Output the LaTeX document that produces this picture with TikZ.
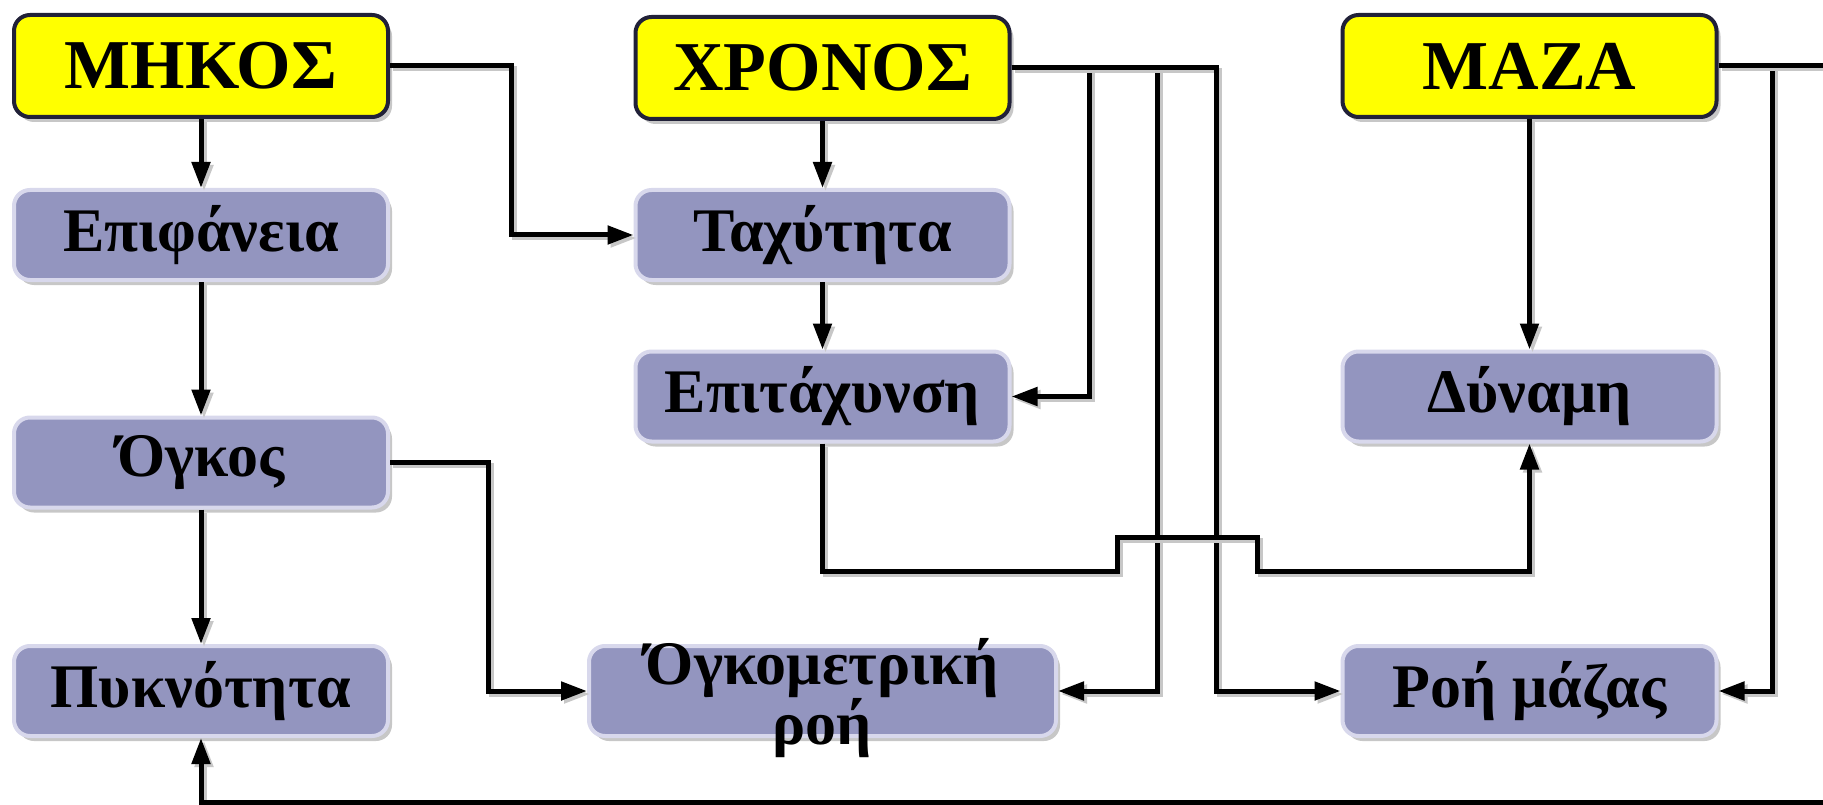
\documentclass[tikz,border=0pt]{standalone}
\usepackage{fontspec}
\setmainfont{Liberation Serif}
\usetikzlibrary{arrows.meta,shadows}
\definecolor{ybox}{RGB}{255,255,0}
\definecolor{ybord}{RGB}{33,33,56}
\definecolor{pfill}{RGB}{147,149,191}
\definecolor{pbord}{RGB}{216,216,236}
\tikzset{
  boxbase/.style={rectangle, rounded corners=16pt, line width=4pt, inner sep=0pt,
    drop shadow={shadow xshift=4pt, shadow yshift=-5pt, fill=black, opacity=0.22}},
  ybx/.style={boxbase, fill=ybox, draw=ybord, minimum width=374pt, minimum height=102pt,
    font=\fontsize{70}{80}\selectfont\bfseries},
  pbx/.style={boxbase, fill=pfill, draw=pbord, minimum width=374pt, minimum height=90pt,
    font=\fontsize{62}{57}\selectfont\bfseries},
  ptext/.style={font=\fontsize{62}{57}\selectfont\bfseries, align=center, inner sep=0pt},
  conn/.style={line width=5pt, draw=black, -{Triangle[length=26pt,width=18pt]},
    preaction={draw=black!22, line width=5pt, transform canvas={shift={(3,3)}}}}
}
\begin{document}
\begin{tikzpicture}[x=1pt,y=-1pt]
\useasboundingbox (0,0) rectangle (1823,805);
\fill[white] (0,0) rectangle (1823,805);
\clip (0,0) rectangle (1823,805);
% nodes
\node[ybx] (mhkos) at (201,66) {ΜΗΚΟΣ};
\node[ybx] (xronos) at (822.5,68) {ΧΡΟΝΟΣ};
\node[ybx] (maza) at (1529.5,66) {ΜΑΖΑ};
\node[pbx] (epif) at (201,235) {Επιφάνεια};
\node[pbx] (tax) at (822.5,235) {Ταχύτητα};
\node[pbx] (epit) at (822.5,396.5) {Επιτάχυνση};
\node[pbx] (dyn) at (1529.5,396.5) {Δύναμη};
\node[pbx] (ogkos) at (201,462.5) {Όγκος};
\node[pbx] (pyk) at (201,691) {Πυκνότητα};
\node[pbx, minimum width=467pt] (ogkm) at (822.5,691) {};
\node[ptext] (ogkmt) at (822.5,698) {Όγκομετρική\\ροή};
\node[pbx] (roi) at (1529.5,691) {Ροή μάζας};
% connectors
\draw[conn] (mhkos.south) -- (epif.north);
\draw[conn] (epif.south) -- (ogkos.north);
\draw[conn] (ogkos.south) -- (pyk.north);
\draw[conn] (mhkos.east) -- ++(121,0) |- (tax.west);
\draw[conn] (ogkos.east) -- ++(98,0) |- (ogkm.west);
\draw[conn] (xronos.south) -- (tax.north);
\draw[conn] (tax.south) -- (epit.north);
\draw[conn] (xronos.east) -- ++(78,0) |- (epit.east);
\draw[conn] (xronos.east) -- ++(146,0) |- (ogkm.east);
\draw[conn] (xronos.east) -- ++(205,0) |- (roi.west);
\draw[conn] (epit.south) |- (1117,571) -- (1117,537) -- (1257,537) -- (1257,571) -| (dyn.south);
\draw[conn] (maza.south) -- (dyn.north);
\draw[conn] (maza.east) -- ++(54,0) |- (roi.east);
\draw[conn] (maza.east) -- (1840,66) -- (1840,802) -| (pyk.south);
\end{tikzpicture}
\end{document}
